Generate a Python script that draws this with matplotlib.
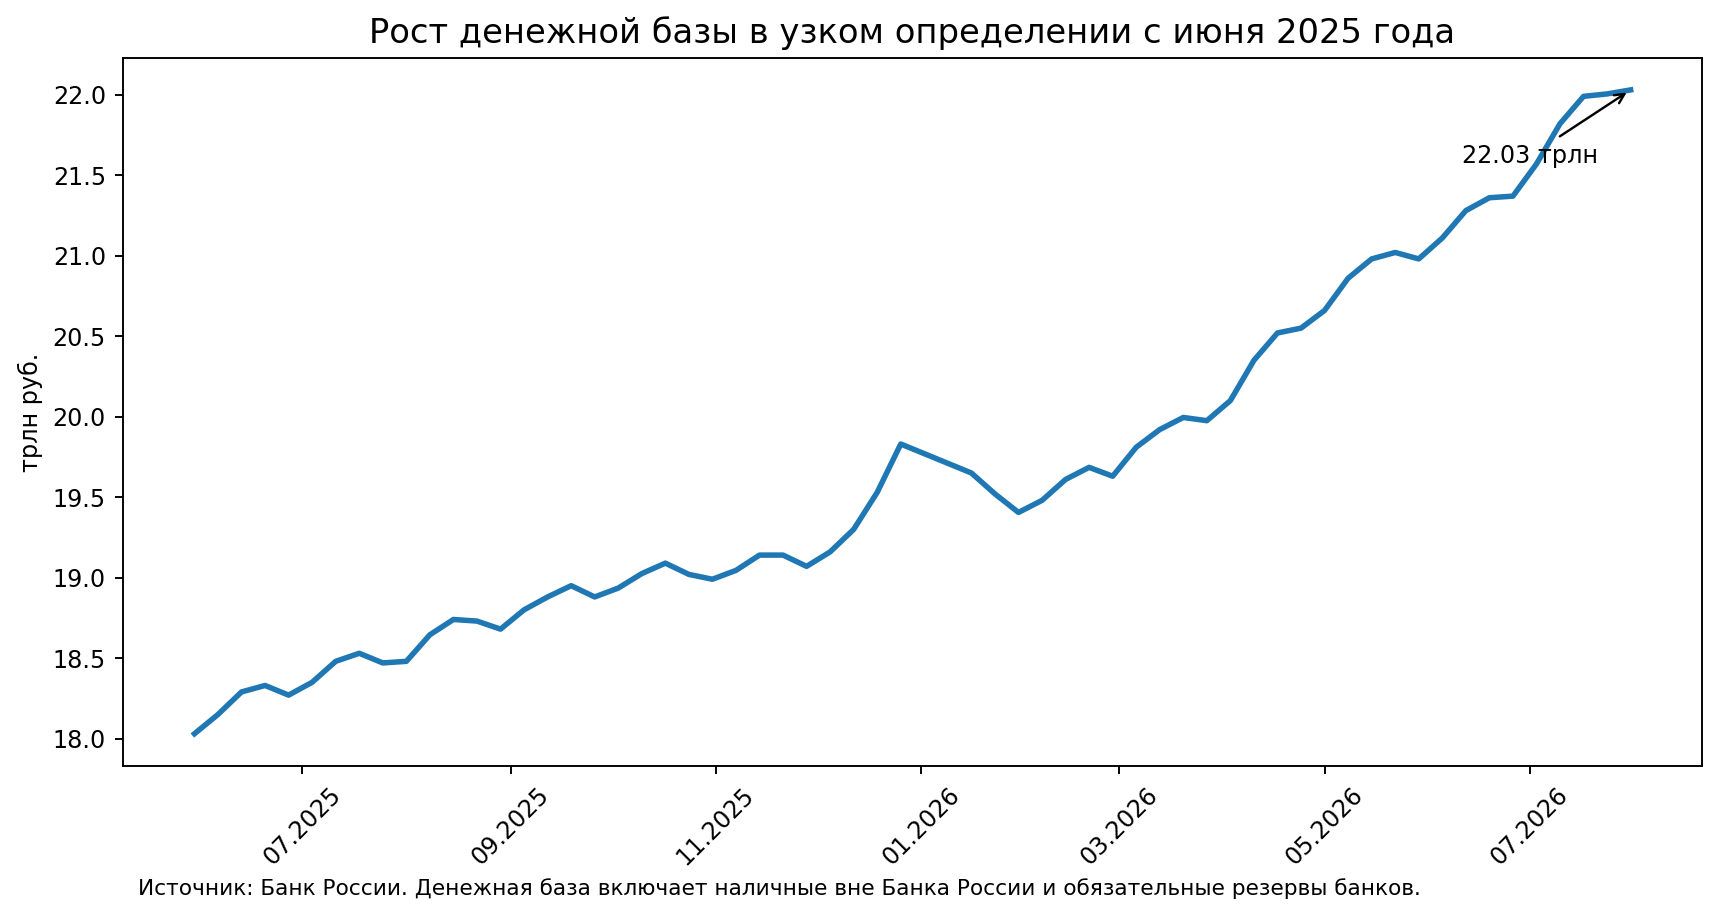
import pandas as pd
import matplotlib
matplotlib.use("Agg")
import matplotlib.pyplot as plt
import matplotlib.dates as mdates

# weekly data, trillion rubles
dates = pd.date_range("2025-05-30", periods=62, freq="7D")
base = [18.03, 18.15, 18.29, 18.33, 18.27, 18.35, 18.48, 18.53, 18.47, 18.48,
        18.645, 18.74, 18.73, 18.68, 18.80, 18.88, 18.95, 18.88, 18.935, 19.025,
        19.09, 19.02, 18.99, 19.045, 19.14, 19.14, 19.07, 19.16, 19.30, 19.53,
        19.83, 19.77, 19.71, 19.65, 19.52, 19.405, 19.48, 19.61, 19.685, 19.63,
        19.81, 19.92, 19.995, 19.975, 20.10, 20.35, 20.52, 20.55, 20.66, 20.86,
        20.98, 21.02, 20.98, 21.11, 21.28, 21.36, 21.37, 21.57, 21.82, 21.99,
        22.005, 22.03]

title = "Рост денежной базы в узком определении с июня 2025 года"
ylabel = "трлн руб."
source = ("Источник: Банк России. Денежная база включает наличные вне Банка России "
          "и обязательные резервы банков.")

fig = plt.figure(figsize=(10, 916 / 172), dpi=172)
ax = fig.add_axes([0.0713, 0.1638, 0.9185, 0.7732])

ax.plot(dates, base, color="#1f77b4", lw=2.3)
ax.set_title(title, fontsize=14.15)
ax.set_ylabel(ylabel)

ax.xaxis.set_major_locator(mdates.MonthLocator(bymonth=[1, 3, 5, 7, 9, 11]))
ax.xaxis.set_major_formatter(mdates.DateFormatter("%m.%Y"))
plt.setp(ax.get_xticklabels(), rotation=45)

ax.annotate(f"{base[-1]:.2f} трлн", xy=(dates[-1], base[-1]),
            xytext=(-70.5, -30.5), textcoords="offset points",
            arrowprops=dict(arrowstyle="->", color="black"))

fig.text(0.0802, 0.0229, source, fontsize=9.04)

fig.savefig("out.png", dpi=172)
